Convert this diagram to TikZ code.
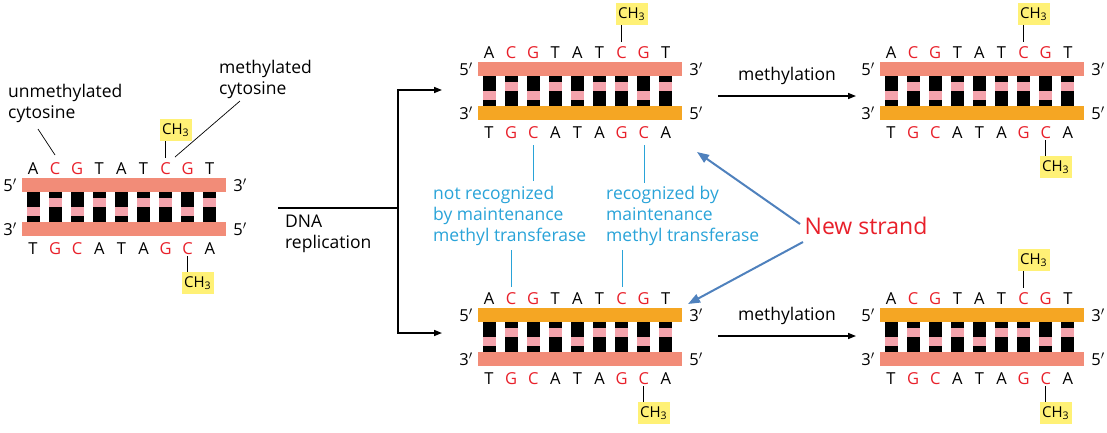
\documentclass[tikz,border=0pt]{standalone}
\usepackage{fontspec}
\setmainfont{Open Sans}
\usetikzlibrary{arrows.meta}
\definecolor{salmon}{HTML}{F28C78}
\definecolor{orng}{HTML}{F5A623}
\definecolor{band}{HTML}{F4A3AC}
\definecolor{dred}{HTML}{E8202A}
\definecolor{ylw}{HTML}{FFF176}
\definecolor{lblue}{HTML}{29A3D8}
\definecolor{abl}{HTML}{4F81BD}
\newcommand\pr{\ensuremath{'}}
\tikzset{
 base/.style={font=\fontsize{16.5}{17}\selectfont, inner sep=0pt, anchor=center},
 ch/.style={fill=ylw, font=\fontsize{15}{15}\selectfont, inner sep=0pt, minimum width=32pt, minimum height=22pt},
 lab/.style={font=\fontsize{17.5}{21}\selectfont, align=left, inner sep=0pt, anchor=north west},
 blab/.style={lab, text=lblue},
 arr/.style={-{Triangle[length=8pt,width=6pt]}, line width=1.5pt},
 barr/.style={-{Triangle[length=12pt,width=9pt]}, line width=2pt, abl}
}
\newcommand\dnau[5]{%
\begin{scope}[shift={(#1,#2)}]
\fill[#3] (0,0) rectangle (204,14);
\fill[#4] (0,44) rectangle (204,58);
\foreach \i/\t/\b/\c/\p in {0/A/T/black/29,1/C/G/dred/20,2/G/C/dred/29,3/T/A/black/20,4/A/T/black/29,5/T/A/black/20,6/C/G/dred/20,7/G/C/dred/29,8/T/A/black/20}{
 \fill[black] ({11+22.1*\i-6.5},14) rectangle ++(13,30);
 \fill[band] ({11+22.1*\i-6.5},\p) rectangle ++(13,8.5);
 \node[base,text=\c] (#5t\i) at ({11+22.1*\i},-9) {\t};
 \node[base,text=\c] (#5b\i) at ({11+22.1*\i},71) {\b};
}
\node[base] (#5l1) at (-12,7) {5\pr};
\node[base] (#5r1) at (218,7) {3\pr};
\node[base] (#5l2) at (-12,51) {3\pr};
\node[base] (#5r2) at (218,51) {5\pr};
\end{scope}}
\newcommand\chtop[3]{% name, x, y0
\node[ch] (#1) at (#2+10,#3-48) {CH\textsubscript{3}};
\draw[line width=0.7pt] (#2,#3-37) -- (#2,#3-20);}
\newcommand\chbot[3]{%
\node[ch] (#1) at (#2+10,#3+105) {CH\textsubscript{3}};
\draw[line width=0.7pt] (#2,#3+78) -- (#2,#3+94);}
\begin{document}
\begin{tikzpicture}[x=1pt,y=-1pt]
\useasboundingbox (0,0) rectangle (1107,432);
\dnau{22}{178}{salmon}{salmon}{L}
\dnau{478}{62}{salmon}{orng}{MT}
\dnau{478}{308}{orng}{salmon}{MB}
\dnau{880}{62}{salmon}{orng}{RT}
\dnau{880}{308}{orng}{salmon}{RB}
% CH3
\chtop{c1}{165.6}{178}
\chbot{c2}{187.7}{178}
\chtop{c3}{621.6}{62}
\chtop{c4}{1023.6}{62}
\chbot{c5}{1045.7}{62}
\chbot{c6}{643.7}{308}
\chtop{c7}{1023.6}{308}
\chbot{c8}{1045.7}{308}
% left labels
\node[lab] (um) at (8,84) {unmethylated\\cytosine};
\node[lab] (me) at (219,60) {methylated\\cytosine};
\draw[line width=0.7pt] (38,129) -- (55,155);
\draw[line width=0.7pt] (240,101) -- (175,157);
% replication
\coordinate (s) at (278,208);
\coordinate (j) at (398,208);
\coordinate (ja) at (398,90);
\coordinate (jb) at (398,333);
\draw[line width=1.5pt] (s) -- (j);
\draw[arr] (j) -- (ja) -- (442,90);
\draw[arr] (j) -- (jb) -- (442,333);
\node[lab] (dr) at (285,215) {DNA\\replication};
% methylation arrows
\draw[arr] (718,96) -- node[above=7pt, font=\fontsize{17.5}{17}\selectfont] (m1) {methylation} (856,96);
\draw[arr] (718,336) -- node[above=7pt, font=\fontsize{17.5}{17}\selectfont] (m2) {methylation} (856,336);
% blue labels
\node[blab] (nr) at (433,186) {not recognized\\by maintenance\\methyl transferase};
\node[blab] (rb) at (606,186) {recognized by\\maintenance\\methyl transferase};
\draw[lblue, line width=0.8pt] (533,145) -- (533,181);
\draw[lblue, line width=0.8pt] (644,145) -- (644,183);
\draw[lblue, line width=0.8pt] (511,250) -- (511,287);
\draw[lblue, line width=0.8pt] (622,250) -- (622,287);
% new strand
\node[text=dred, font=\fontsize{23}{24}\selectfont, inner sep=0pt] (ns) at (866,226) {New strand};
\draw[barr] (800,224) -- (697,152);
\draw[barr] (803,242) -- (688,304);
\end{tikzpicture}
\end{document}
